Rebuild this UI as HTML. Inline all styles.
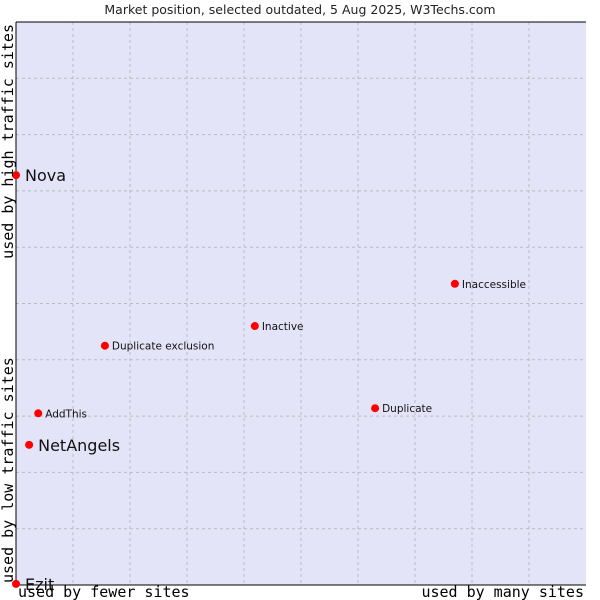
<!DOCTYPE html>
<html><head><meta charset="utf-8"><style>
body{margin:0;background:#fff;}
svg{display:block;font-family:"DejaVu Sans","Liberation Sans",sans-serif;}
.mono{font-family:"DejaVu Sans Mono","Liberation Mono",monospace;font-size:15px;fill:#000;}
</style></head><body>
<svg id="chart" width="600" height="600" viewBox="0 0 600 600">
<text x="300" y="14" text-anchor="middle" font-size="12.5" fill="#222">Market position, selected outdated, 5 Aug 2025, W3Techs.com</text>
<rect x="16" y="22" width="570" height="563" fill="#e4e4f8"/>
<g id="grid"></g>
<line x1="16" y1="22" x2="586" y2="22" stroke="#000"/>
<line x1="16" y1="22" x2="16" y2="585" stroke="#000"/>
<line x1="16" y1="585" x2="586" y2="585" stroke="#000"/>
<g id="points"></g>
<text class="mono" x="18" y="597">used by fewer sites</text>
<text class="mono" x="584" y="597" text-anchor="end">used by many sites</text>
<text class="mono" transform="translate(13,583) rotate(-90)">used by low traffic sites</text>
<text class="mono" transform="translate(13,24) rotate(-90)" text-anchor="end">used by high traffic sites</text>
</svg>
<script>
const names=["Nova","NetAngels","Ezit","AddThis","Duplicate exclusion","Inactive","Inaccessible","Duplicate"];
const xValues=[0,2.3,0,3.9,15.6,41.9,77.0,63.0];
const yValues=[72.8,24.9,0.2,30.5,42.5,46.0,53.5,31.4];
const bigLabel=[true,true,true,false,false,false,false,false];
const gridTicks=[1,2,3,4,5,6,7,8,9];
const L=16,R=586,T=22,B=585,NS="http://www.w3.org/2000/svg";
const sx=v=>L+v/100*(R-L), sy=v=>B-v/100*(B-T);
const grid=document.getElementById('grid');
gridTicks.forEach(t=>{
 const a=document.createElementNS(NS,'line');
 a.setAttribute('x1',sx(t*10));a.setAttribute('x2',sx(t*10));a.setAttribute('y1',T);a.setAttribute('y2',B);
 a.setAttribute('stroke','#bbb');a.setAttribute('stroke-dasharray','3,3');
 
 
 grid.appendChild(a);
 const b=document.createElementNS(NS,'line');
 b.setAttribute('y1',sy(t*10));b.setAttribute('y2',sy(t*10));b.setAttribute('x1',L);b.setAttribute('x2',R);
 b.setAttribute('stroke','#bbb');b.setAttribute('stroke-dasharray','3,3');
 
 
 grid.appendChild(b);
});
const pts=document.getElementById('points');
names.forEach((n,i)=>{
 const x=sx(xValues[i]),y=sy(yValues[i]);
 const c=document.createElementNS(NS,'circle');
 c.setAttribute('cx',x);c.setAttribute('cy',y);c.setAttribute('r',4);c.setAttribute('fill','#f00');
 
 
 pts.appendChild(c);
 const t=document.createElementNS(NS,'text');
 t.setAttribute('x',x+(bigLabel[i]?9:7));t.setAttribute('y',y+(bigLabel[i]?6:4));
 t.setAttribute('font-size',bigLabel[i]?16:10.5);t.setAttribute('fill','#111');
 t.textContent=n;
 
 
 pts.appendChild(t);
});
</script>
</body></html>
